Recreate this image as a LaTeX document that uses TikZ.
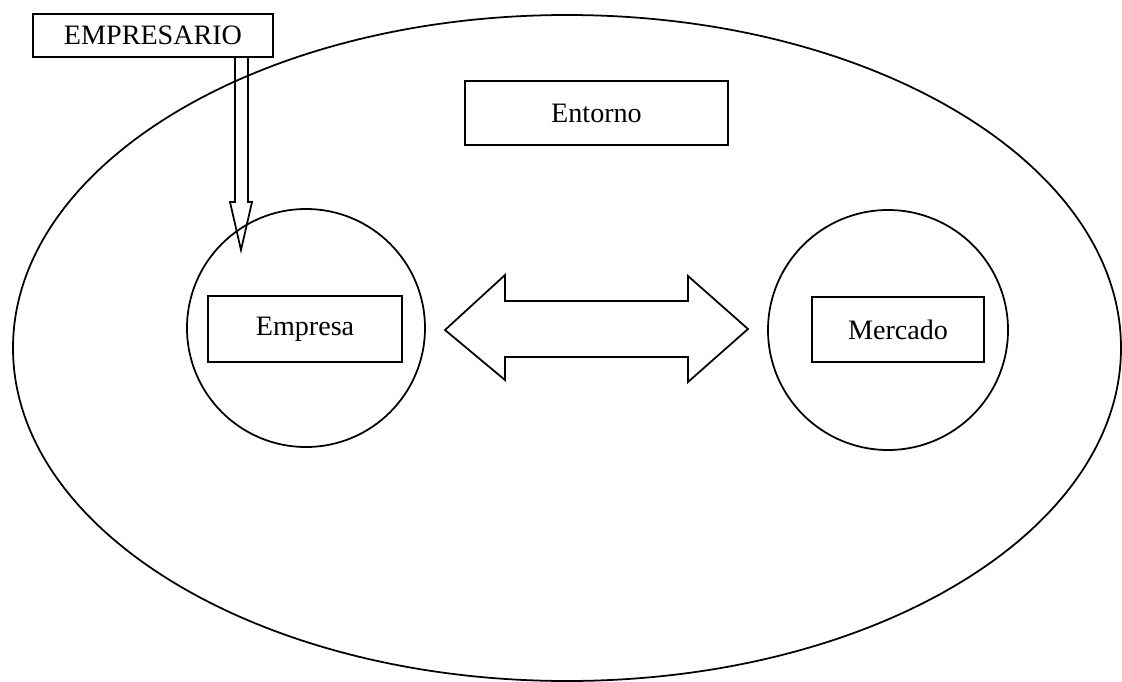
\documentclass[tikz,border=0pt]{standalone}
\usepackage{fontspec}
\setmainfont{Liberation Serif}
\usepackage{tikz}

\begin{document}
\begin{tikzpicture}[x=0.02cm, y=-0.02cm, line width=1pt,
        caja/.style={draw, inner sep=0pt, font=\fontsize{16}{19}\selectfont}]
         \useasboundingbox (0,0) rectangle (1122,682);
         % entorno
         \draw (567,348) ellipse[x radius=554, y radius=333];
         \node[caja, minimum width=5.26cm, minimum height=1.28cm] (entorno) at (596.5,113) {Entorno};
         % empresa y mercado
         \draw (306,328) circle[radius=119];
         \draw (888,330) circle[radius=120];
         \node[caja, minimum width=3.88cm, minimum height=1.32cm] (empresa) at (305,329) {Empresa};
         \node[caja, minimum width=3.44cm, minimum height=1.3cm] (mercado) at (898,329.5) {Mercado};
         \node[caja, fill=white, minimum width=4.8cm, minimum height=0.86cm] (empresario) at (153,35.5) {EMPRESARIO};
         % flechas
         \draw (empresario.south -| 235,0) -- (235,202) -- (230,202) -- (241,250)
               -- (252,202) -- (248,202) -- (empresario.south -| 248,0);
         \draw (445,330) -- (505,275) -- (505,301) -- (688,301) -- (688,276) -- (748,329)
               -- (688,382) -- (688,357) -- (505,357) -- (505,380) -- cycle;
       \end{tikzpicture}
\end{document}
